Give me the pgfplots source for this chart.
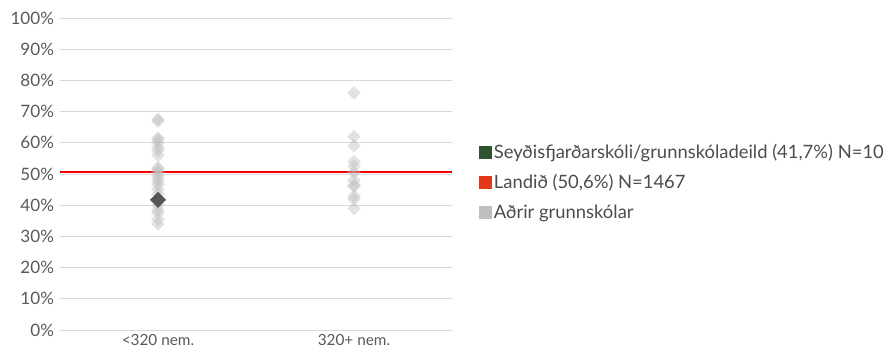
\documentclass[border=0pt]{standalone}
\usepackage{fontspec}
\setmainfont{Lato}
\usepackage{pgfplots}
\pgfplotsset{compat=1.18}
\definecolor{gridc}{HTML}{D9D9D9}
\definecolor{txt}{HTML}{595959}
\definecolor{grn}{HTML}{2F5230}
\definecolor{lred}{HTML}{E2381B}
\definecolor{lgray}{HTML}{BFBFBF}
\definecolor{dk}{HTML}{555555}
\definecolor{redline}{HTML}{F00000}
\begin{document}
\begin{tikzpicture}
\begin{axis}[
  scale only axis, width=294pt, height=234pt,
  xmin=-0.5, xmax=1.5, ymin=0, ymax=100,
  xtick={0,1}, xticklabels={<320 nem., 320+ nem.},
  ytick={0,10,...,100},
  yticklabel={\pgfmathprintnumber{\tick}\%},
  /pgf/number format/assume math mode=true,
  ymajorgrids, grid style={gridc, line width=0.75pt},
  axis line style={draw=none}, major tick length=0pt,
  yticklabel style={txt, font=\fontsize{12.8}{14}\selectfont, xshift=-1pt},
  xticklabel style={txt, font=\fontsize{11.5}{13}\selectfont, yshift=0pt},
  legend style={at={(1.058,0.474)}, anchor=west, draw=none, fill=none,
    font=\fontsize{13.8}{15}\selectfont, text=txt!85!black, row sep=6.5pt},
  legend cell align=left,
  clip=false,
]
\addlegendimage{only marks, mark=square*, mark size=4.6pt, mark options={grn}}
\addlegendentry{Seyðisfjarðarskóli/grunnskóladeild (41,7\%) N=10}
\addlegendimage{only marks, mark=square*, mark size=4.6pt, mark options={lred}}
\addlegendentry{Landið (50,6\%) N=1467}
\addlegendimage{only marks, mark=square*, mark size=4.6pt, mark options={lgray}}
\addlegendentry{Aðrir grunnskólar}

\addplot[redline, line width=1.5pt, forget plot] coordinates {(-0.5,50.6) (1.5,50.6)};

\addplot[only marks, mark=square*, mark size=3.6pt,
  mark options={rotate=45, lgray, draw opacity=0, fill opacity=0.45}, forget plot]
  table {
x y
0 67.5
0 67.0
0 61.5
0 61.0
0 60.0
0 58.5
0 57.5
0 56.0
0 52.0
0 51.5
0 50.5
0 49.5
0 48.5
0 47.5
0 46.5
0 45.0
0 43.5
0 40.0
0 38.5
0 37.5
0 35.5
0 34.0
1 76.0
1 62.0
1 59.0
1 54.0
1 52.5
1 50.5
1 48.0
1 46.5
1 46.0
1 43.0
1 42.0
1 39.0
};

\addplot[only marks, mark=square*, mark size=4pt,
  mark options={rotate=45, dk}, forget plot]
  coordinates {(0,41.7)};
\end{axis}
\path (current axis.south west) ++(-45pt,-15.75pt) rectangle ++(668.25pt,263.25pt);
\end{tikzpicture}
\end{document}
